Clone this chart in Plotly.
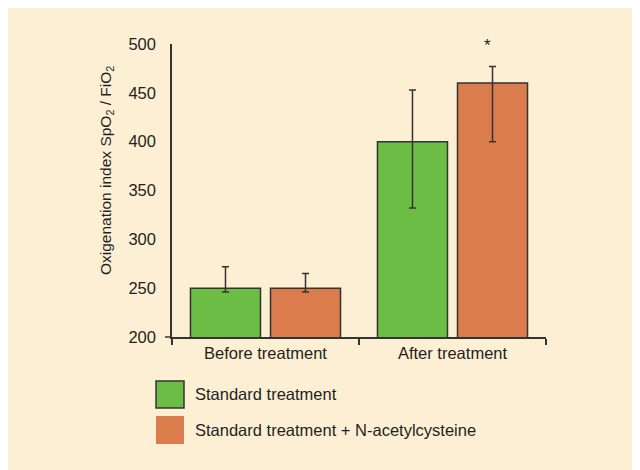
import plotly.graph_objects as go

categories = ["Before treatment", "After treatment"]
series_names = ["Standard treatment", "Standard treatment + N-acetylcysteine"]
standard = [250, 400]
standard_err_plus = [22, 53]
standard_err_minus = [4, 68]
nac = [250, 460]
nac_err_plus = [15, 17]
nac_err_minus = [4, 60]
y_ticks = [200, 250, 300, 350, 400, 450, 500]

W, H = 640, 470
# page is drawn with an 8px body margin; work in figure pixels
L, R, T, B = 164, 102, 36, 141
PW, PH = W - L - R, H - T - B


def px_x(p):
    return (p - L) / PW


def px_y(p):
    return (H - B - p) / PH


FONT = "Liberation Sans, Arial, sans-serif"
TXT = "#231f20"
EDGE = "#333333"
GREEN = "#6cbd45"
ORANGE = "#da7c4b"
BG = "#fdefd4"
FS = 16.5

fig = go.Figure()
fig.add_trace(go.Bar(
    x=categories, y=standard, name=series_names[0],
    marker=dict(color=GREEN, line=dict(color=EDGE, width=1.5)),
    error_y=dict(type="data", symmetric=False, array=standard_err_plus,
                 arrayminus=standard_err_minus, color=EDGE, thickness=1.5, width=3.5),
    showlegend=False,
))
fig.add_trace(go.Bar(
    x=categories, y=nac, name=series_names[1],
    marker=dict(color=ORANGE, line=dict(color=EDGE, width=1.5)),
    error_y=dict(type="data", symmetric=False, array=nac_err_plus,
                 arrayminus=nac_err_minus, color=EDGE, thickness=1.5, width=3.5),
    showlegend=False,
))

shapes = [
    dict(type="line", xref="paper", yref="paper",
         x0=px_x(157), x1=0, y0=0, y1=0, line=dict(color=EDGE, width=1.5)),
    dict(type="rect", xref="paper", yref="paper",
         x0=px_x(148), x1=px_x(176), y0=px_y(373), y1=px_y(400),
         fillcolor=GREEN, line=dict(color=EDGE, width=1.5)),
    dict(type="rect", xref="paper", yref="paper",
         x0=px_x(148), x1=px_x(176), y0=px_y(408), y1=px_y(436),
         fillcolor=ORANGE, line=dict(width=0)),
]

annotations = [
    dict(x=categories[1], y=nac[1] + nac_err_plus[1], xref="x", yref="y",
         text="*", showarrow=False, xshift=35, yshift=21,
         font=dict(size=17, color=TXT, family=FONT)),
    dict(x=px_x(185), y=px_y(386), xref="paper", yref="paper",
         text=series_names[0], showarrow=False, xanchor="left", yanchor="middle",
         font=dict(size=FS, color=TXT, family=FONT)),
    dict(x=px_x(185), y=px_y(422), xref="paper", yref="paper",
         text=series_names[1], showarrow=False, xanchor="left", yanchor="middle",
         font=dict(size=FS, color=TXT, family=FONT)),
    dict(x=px_x(98), y=px_y(163), xref="paper", yref="paper",
         text="Oxigenation index SpO<sub>2</sub> / FiO<sub>2</sub>", textangle=-90,
         showarrow=False, xanchor="center", yanchor="middle",
         font=dict(size=15.5, color=TXT, family=FONT)),
]

fig.update_layout(
    width=W, height=H,
    margin=dict(l=L, r=R, t=T, b=B, pad=0),
    paper_bgcolor=BG,
    plot_bgcolor=BG,
    barmode="group",
    bargap=0.144,
    bargroupgap=0.125,
    font=dict(family=FONT, size=FS, color=TXT),
    shapes=shapes,
    annotations=annotations,
    xaxis=dict(
        showline=True, linecolor=EDGE, linewidth=1.5,
        ticks="outside", tickson="boundaries", ticklen=6, tickcolor=EDGE, tickwidth=1.5,
        showgrid=False, zeroline=False,
        tickfont=dict(size=FS, color=TXT, family=FONT),
    ),
    yaxis=dict(
        range=[200, 500], tickvals=y_ticks,
        showline=True, linecolor=EDGE, linewidth=1.5,
        ticks="", showgrid=False, zeroline=False,
        ticklabelstandoff=11,
        tickfont=dict(size=FS, color=TXT, family=FONT),
    ),
)

fig.write_html("out.html")
